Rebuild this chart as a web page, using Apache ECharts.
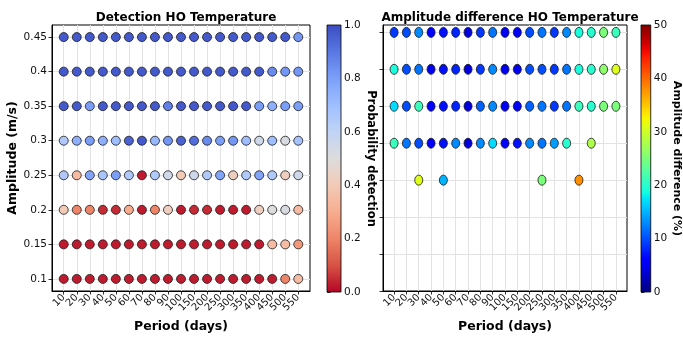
<!DOCTYPE html>
<html>
<head>
<meta charset="utf-8">
<script src="https://cdn.jsdelivr.net/npm/echarts@6/dist/echarts.min.js"></script>
<style>
  html, body { margin: 0; padding: 0; background: #fff; }
  #chart { width: 683px; height: 340px; }
</style>
</head>
<body>
<div id="chart"></div>
<script>
// Tested oscillation periods (days) and amplitudes (m/s)
const periods = ['10', '20', '30', '40', '50', '60', '70', '80', '90', '100',
                 '150', '200', '250', '300', '350', '400', '450', '500', '550'];
const amplitudes = [0.1, 0.15, 0.2, 0.25, 0.3, 0.35, 0.4, 0.45];

// Probability of detection, one row per amplitude
const detect010 = [0.03, 0.03, 0.03, 0.03, 0.03, 0.03, 0.03, 0.03, 0.03, 0.03, 0.03, 0.03, 0.03, 0.03, 0.03, 0.03, 0.03, 0.2, 0.35];
const detect015 = [0.03, 0.03, 0.03, 0.03, 0.03, 0.03, 0.03, 0.03, 0.03, 0.03, 0.03, 0.03, 0.03, 0.03, 0.03, 0.03, 0.35, 0.35, 0.25];
const detect020 = [0.4, 0.2, 0.2, 0.05, 0.05, 0.3, 0.03, 0.2, 0.42, 0.03, 0.05, 0.05, 0.03, 0.03, 0.03, 0.42, 0.5, 0.52, 0.35];
const detect025 = [0.65, 0.35, 0.78, 0.67, 0.8, 0.65, 0.03, 0.65, 0.55, 0.4, 0.55, 0.65, 0.78, 0.42, 0.65, 0.78, 0.65, 0.42, 0.55];
const detect030 = [0.65, 0.75, 0.8, 0.75, 0.7, 0.95, 0.97, 0.72, 0.82, 0.95, 0.92, 0.85, 0.8, 0.82, 0.7, 0.55, 0.7, 0.52, 0.68];
const detect035 = [0.97, 0.97, 0.8, 0.97, 0.97, 0.97, 0.97, 0.97, 0.88, 0.97, 0.97, 0.97, 0.97, 0.97, 0.97, 0.8, 0.75, 0.8, 0.8];
const detect040 = [0.97, 0.97, 0.97, 0.97, 0.97, 0.97, 0.97, 0.97, 0.97, 0.97, 0.97, 0.97, 0.97, 0.97, 0.97, 0.97, 0.85, 0.82, 0.82];
const detect045 = [0.97, 0.97, 0.97, 0.97, 0.97, 0.97, 0.97, 0.97, 0.97, 0.97, 0.97, 0.97, 0.97, 0.97, 0.97, 0.97, 0.97, 0.97, 0.82];

// Amplitude difference (%), null where nothing was recovered
const diff025 = [null, null, 31, null, 15, null, null, null, null, null, null, null, 25, null, null, 38, null, null, null];
const diff030 = [21, 12, 10, 6, 7, 13, 4, 13, 17, 6, 7, 13, 12, 14, 20, null, 28, null, null];
const diff035 = [17, 10, 21, 6, 7, 8, 4, 11, 13, 5, 5, 11, 12, 9, 12, 21, 20, 25, 25];
const diff040 = [19, 10, 12, 5, 7, 8, 4, 9, 13, 5, 5, 10, 10, 9, 12, 19, 20, 26, 31];
const diff045 = [9, 10, 13, 6, 7, 8, 4, 9, 12, 5, 5, 10, 12, 9, 13, 19, 20, 25, 21];

const detectRows = [detect010, detect015, detect020, detect025, detect030, detect035, detect040, detect045];
const diffRows = [[0.25, diff025], [0.3, diff030], [0.35, diff035], [0.4, diff040], [0.45, diff045]];

const probTicks = [0, 0.2, 0.4, 0.6, 0.8, 1.0];
const diffTicks = [0, 10, 20, 30, 40, 50];

// ---- colour maps ----
const coolwarmStops = ['#3b4cc0', '#5977e3', '#7b9ff9', '#9ebeff', '#c0d4f5', '#dddcdc',
                       '#f2cbb7', '#f7ac8e', '#ee8468', '#d65244', '#b40426'];
function hexToRgb(h) { return [parseInt(h.slice(1, 3), 16), parseInt(h.slice(3, 5), 16), parseInt(h.slice(5, 7), 16)]; }
function rgbStr(c) { return 'rgb(' + c.map(v => Math.round(Math.max(0, Math.min(255, v)))).join(',') + ')'; }
function coolwarm(t) {
  t = Math.max(0, Math.min(1, t));
  const n = coolwarmStops.length - 1;
  const f = t * n, i = Math.min(n - 1, Math.floor(f)), u = f - i;
  const a = hexToRgb(coolwarmStops[i]), b = hexToRgb(coolwarmStops[i + 1]);
  return rgbStr(a.map((v, k) => v + (b[k] - v) * u));
}
// high probability -> blue, low -> red
function coolwarmR(t) { return coolwarm(1 - t); }
function piece(t, pts) {
  for (let i = 0; i < pts.length - 1; i++) {
    const [x0, y0] = pts[i], [x1, y1] = pts[i + 1];
    if (t <= x1) return y0 + (y1 - y0) * (t - x0) / (x1 - x0);
  }
  return pts[pts.length - 1][1];
}
function jet(t) {
  t = Math.max(0, Math.min(1, t));
  const r = piece(t, [[0, 0], [0.35, 0], [0.66, 1], [0.89, 1], [1, 0.5]]);
  const g = piece(t, [[0, 0], [0.125, 0], [0.375, 1], [0.64, 1], [0.91, 0], [1, 0]]);
  const b = piece(t, [[0, 0.5], [0.11, 1], [0.34, 1], [0.65, 0], [1, 0]]);
  return rgbStr([r * 255, g * 255, b * 255]);
}

// ---- series data ----
const detectData = [];
detectRows.forEach((row, r) => row.forEach((v, i) => detectData.push([i, amplitudes[r], v])));
const diffData = [];
diffRows.forEach(([a, row]) => row.forEach((v, i) => { if (v !== null) diffData.push([i, a, v]); }));

function gradient(fn) {
  const stops = [];
  for (let k = 0; k <= 40; k++) stops.push({ offset: k / 40, color: fn(k / 40) });
  return new echarts.graphic.LinearGradient(0, 1, 0, 0, stops);
}
function colorbarItem(yMin, yMax, fn) {
  return function (params, api) {
    const p0 = api.coord([0, yMin]);
    const p1 = api.coord([1, yMax]);
    return {
      type: 'rect',
      shape: { x: p0[0], y: p1[1], width: p1[0] - p0[0], height: p0[1] - p1[1] },
      style: { fill: gradient(fn), stroke: '#000', lineWidth: 0.8 }
    };
  };
}

const FONT = 'DejaVu Sans';
const idx = periods.map((_, i) => i);
// rotated period labels are split over two coincident axes so none get culled
const evenIdx = idx.filter(i => i % 2 === 0);
const oddIdx = idx.filter(i => i % 2 === 1);
const ampTicks = amplitudes.slice();

const gridLine = { show: true, lineStyle: { color: '#e3e3e3', width: 1 } };
const tickStyle = { show: true, length: 3.5, lineStyle: { color: '#000', width: 0.8 } };
const periodLabel = {
  rotate: 45, fontFamily: FONT, fontSize: 10, color: '#111', margin: 5,
  formatter: v => periods[Math.round(v)]
};

function periodAxis(gridIndex) {
  return {
    type: 'value', gridIndex, min: -0.9, max: 18.9, position: 'bottom',
    axisLine: { show: true, onZero: false, lineStyle: { color: '#000', width: 1 } },
    axisTick: Object.assign({ customValues: idx }, tickStyle),
    axisLabel: Object.assign({ customValues: evenIdx }, periodLabel),
    splitLine: gridLine,
    name: 'Period (days)', nameLocation: 'middle', nameGap: 28,
    nameTextStyle: { fontFamily: FONT, fontSize: 12.5, fontWeight: 'bold', color: '#000' }
  };
}
function periodOddLabels(gridIndex) {
  return {
    type: 'value', gridIndex, min: -0.9, max: 18.9, position: 'bottom',
    axisLine: { show: false, onZero: false },
    axisTick: { show: false },
    axisLabel: Object.assign({ customValues: oddIdx }, periodLabel),
    splitLine: { show: false }
  };
}

const chart = echarts.init(document.getElementById('chart'), null, { renderer: 'canvas' });
chart.setOption({
  animation: false,
  backgroundColor: '#fff',
  title: [
    { text: 'Detection HO Temperature', left: 181, top: 7, textAlign: 'center',
      textStyle: { fontFamily: FONT, fontSize: 12, fontWeight: 'bold', color: '#000' } },
    { text: 'Amplitude difference HO Temperature', left: 505, top: 7, textAlign: 'center',
      textStyle: { fontFamily: FONT, fontSize: 12, fontWeight: 'bold', color: '#000' } }
  ],
  grid: [
    { left: 52, top: 25, width: 258, height: 266, show: true, borderColor: '#000', borderWidth: 1, containLabel: false },
    { left: 383, top: 25, width: 244, height: 266, show: true, borderColor: '#000', borderWidth: 1, containLabel: false },
    { left: 327, top: 25, width: 14, height: 267, containLabel: false },
    { left: 641, top: 25, width: 13, height: 267, containLabel: false }
  ],
  xAxis: [
    periodAxis(0),
    periodAxis(1),
    { type: 'value', gridIndex: 2, min: 0, max: 1, show: false },
    { type: 'value', gridIndex: 3, min: 0, max: 1, show: false },
    periodOddLabels(0),
    periodOddLabels(1)
  ],
  yAxis: [
    {
      type: 'value', gridIndex: 0, min: 0.0825, max: 0.4675,
      axisLine: { show: true, onZero: false, lineStyle: { color: '#000', width: 1 } },
      axisTick: Object.assign({ customValues: ampTicks }, tickStyle),
      axisLabel: { customValues: ampTicks, fontFamily: FONT, fontSize: 10.5, color: '#111', margin: 5,
                   formatter: v => String(+(+v).toFixed(2)) },
      splitLine: gridLine,
      name: 'Amplitude (m/s)', nameLocation: 'middle', nameGap: 31,
      nameTextStyle: { fontFamily: FONT, fontSize: 12.5, fontWeight: 'bold', color: '#000' }
    },
    {
      type: 'value', gridIndex: 1, min: 0.1, max: 0.46,
      axisLine: { show: true, onZero: false, lineStyle: { color: '#000', width: 1 } },
      axisTick: Object.assign({ customValues: ampTicks }, tickStyle),
      axisLabel: { show: false },
      splitLine: gridLine
    },
    {
      type: 'value', gridIndex: 2, min: 0, max: 1, position: 'right',
      axisLine: { show: false },
      axisTick: Object.assign({ customValues: probTicks }, tickStyle),
      axisLabel: { customValues: probTicks, fontFamily: FONT, fontSize: 10.5, color: '#111', margin: 3,
                   formatter: v => (+v).toFixed(1) },
      splitLine: { show: false },
      name: 'Probability detection', nameLocation: 'middle', nameGap: 14, nameRotate: -90,
      nameTextStyle: { fontFamily: FONT, fontSize: 11.5, fontWeight: 'bold', color: '#000' }
    },
    {
      type: 'value', gridIndex: 3, min: 0, max: 50, position: 'right',
      axisLine: { show: false },
      axisTick: Object.assign({ customValues: diffTicks }, tickStyle),
      axisLabel: { customValues: diffTicks, fontFamily: FONT, fontSize: 10.5, color: '#111', margin: 3,
                   formatter: v => String(Math.round(v)) },
      splitLine: { show: false },
      name: 'Amplitude difference (%)', nameLocation: 'middle', nameGap: 15, nameRotate: -90,
      nameTextStyle: { fontFamily: FONT, fontSize: 11, fontWeight: 'bold', color: '#000' }
    }
  ],
  series: [
    {
      type: 'scatter', xAxisIndex: 0, yAxisIndex: 0, data: detectData,
      symbol: 'circle', symbolSize: 9, z: 5,
      itemStyle: { color: p => coolwarmR(p.value[2]), borderColor: '#1a1a1a', borderWidth: 0.8, opacity: 1 }
    },
    {
      type: 'scatter', xAxisIndex: 1, yAxisIndex: 1, data: diffData,
      symbol: 'circle', symbolSize: [8, 10], z: 5,
      itemStyle: { color: p => jet(p.value[2] / 50), borderColor: '#1a1a1a', borderWidth: 0.8, opacity: 1 }
    },
    {
      type: 'custom', xAxisIndex: 2, yAxisIndex: 2, data: [[0, 0]],
      renderItem: colorbarItem(0, 1, coolwarmR), silent: true
    },
    {
      type: 'custom', xAxisIndex: 3, yAxisIndex: 3, data: [[0, 0]],
      renderItem: colorbarItem(0, 50, t => jet(t)), silent: true
    }
  ]
});
</script>
</body>
</html>
